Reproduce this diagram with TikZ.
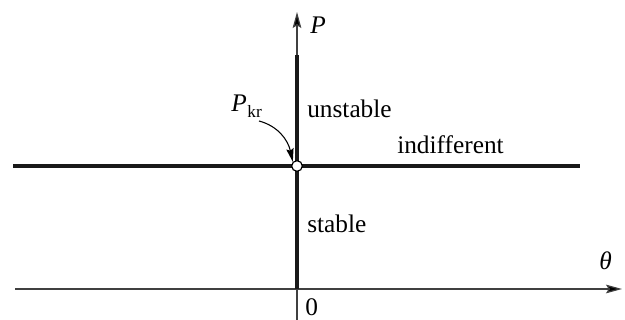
\documentclass[tikz,border=0pt]{standalone}
\usepackage{fontspec}
\setmainfont{Liberation Serif}
\usetikzlibrary{arrows.meta}
\begin{document}
\begin{tikzpicture}[x=0.75pt,y=-0.75pt,
  thinax/.style={line width=0.9pt,draw=black!75,-{Stealth[length=12pt,width=6.5pt,inset=2pt,fill=black]}},
  thickln/.style={line width=3pt,draw=black!90},
  lbl/.style={inner sep=0pt,anchor=base west,font=\fontsize{19}{22}\selectfont}]
\useasboundingbox (0,0) rectangle (625,320);
\coordinate (xs) at (15,289);
\coordinate (xe) at (622,289);
\coordinate (ys) at (297,320);
\coordinate (ye) at (297,12);
\coordinate (o) at (297,289);
\coordinate (vt) at (297,55);
\coordinate (hl) at (13,166);
\coordinate (hr) at (580,166);
\draw[thinax] (xs) -- (xe);
\draw[thinax] (ys) -- (ye);
\draw[thickln] (o) -- (vt);
\draw[thickln] (hl) -- (hr);
\node[circle,draw,line width=0.9pt,fill=white,minimum size=8pt,inner sep=0pt] (c) at (297,166) {};
\node[lbl] (P) at (310,34) {\itshape P};
\node[lbl] (th) at (599,270) {\itshape θ};
\node[lbl] (zero) at (305,316) {0};
\node[lbl] (un) at (307,118) {unstable};
\node[lbl] (ind) at (397,154) {indifferent};
\node[lbl] (st) at (307,233) {stable};
\node[lbl] (pk) at (231,112) {\itshape P\kern0.5pt\raisebox{-4.5pt}{\upshape\fontsize{13}{14}\selectfont kr}};
\coordinate (as) at (259,121);
\draw[line width=0.8pt,-{Stealth[length=10pt,width=5.5pt,inset=1.5pt]}] (as) .. controls (278,126) and (288,140) .. (c.north west);
\end{tikzpicture}
\end{document}
